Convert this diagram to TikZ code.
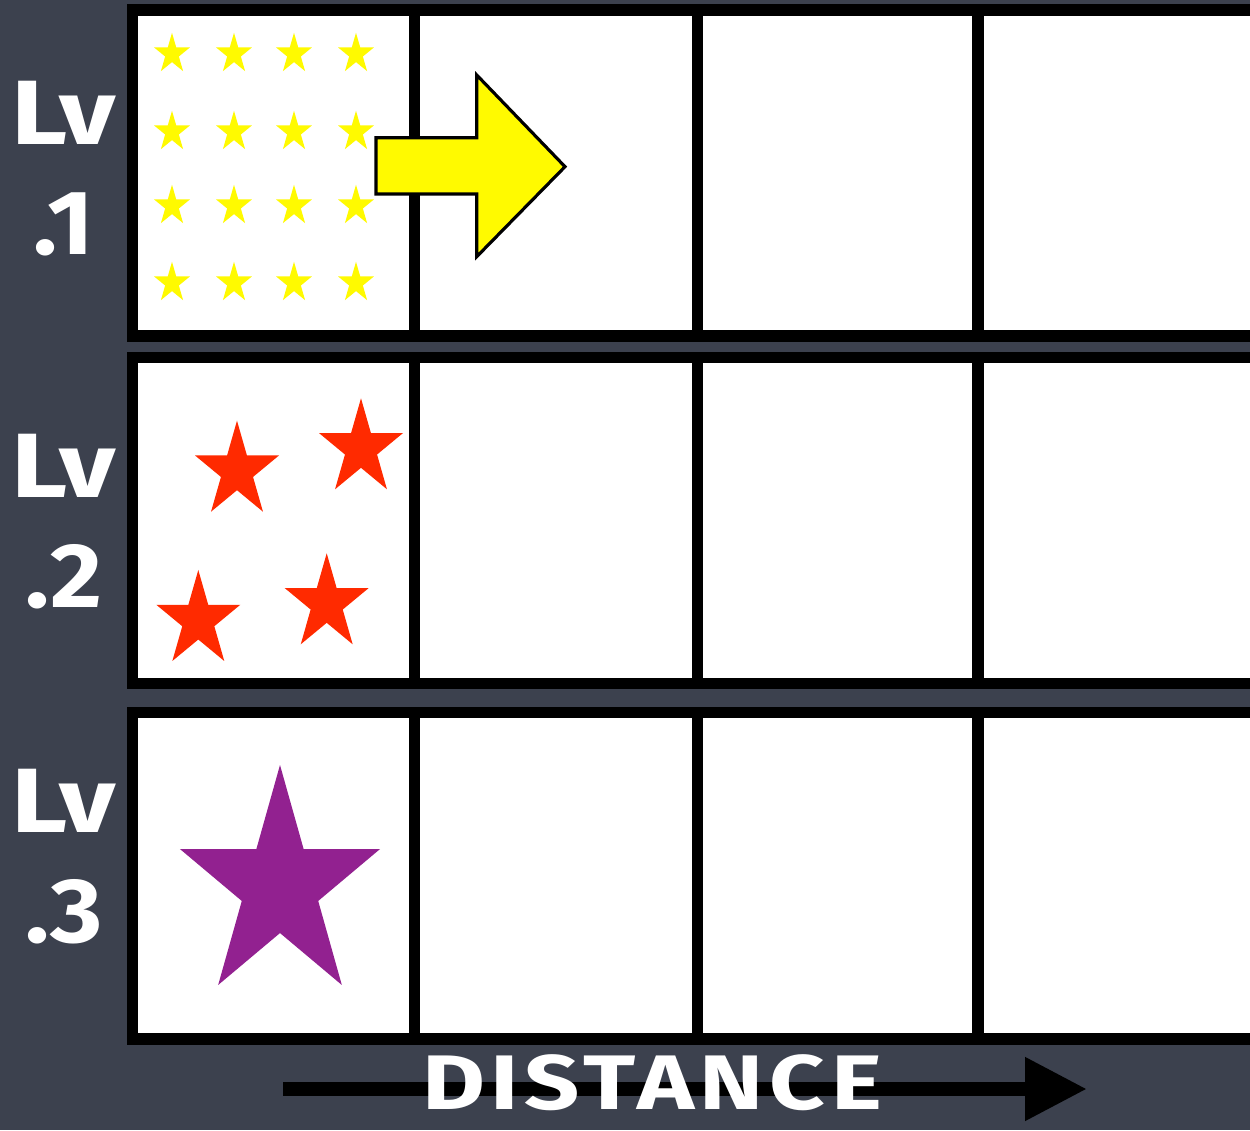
\documentclass[tikz,border=0pt]{standalone}
\usepackage{fontspec}
\setmainfont{Fira Sans}
\usepackage{xcolor}
\usetikzlibrary{arrows.meta,positioning,calc}
\definecolor{board}{RGB}{60,65,78}
\definecolor{starred}{RGB}{255,42,0}
\definecolor{starpurple}{RGB}{146,33,144}
\definecolor{staryellow}{RGB}{255,250,0}
% five-point star: centre x, centre y, radius, colour, x-squeeze
\newcommand{\chalkstar}[5]{%
  \fill[#4, shift={(#1,#2)}, xscale=#5] (90:#3) -- (126:0.382*#3) -- (162:#3) -- (198:0.382*#3)
    -- (234:#3) -- (270:0.382*#3) -- (306:#3) -- (342:0.382*#3) -- (18:#3) -- (54:0.382*#3) -- cycle;}

\begin{document}
\begin{tikzpicture}[x=0.02cm, y=0.02cm,
  gridline/.style={black, line width=0.23cm},
  chalk/.style={white, font=\fontsize{52}{52}\selectfont\bfseries, inner sep=0pt},
  distarrow/.style={black, line width=0.28cm, -{Triangle[length=1.24cm, width=1.2cm]}}]
\useasboundingbox (0,0) rectangle (1250,1130);
\clip (0,0) rectangle (1250,1130);

% Chalkboard
\fill[board] (0,0) rectangle (1250,1130);

% Draw the three level rows (they run off the right edge)
\foreach \top/\bot in {1120/794, 772.5/446.5, 417.5/91} {
    \fill[white] (132.5,\bot) rectangle (1280,\top);
    \foreach \cx in {414.5, 697.5, 978}
        \draw[gridline] (\cx,\bot) -- (\cx,\top);
    \draw[gridline] (132.5,\bot) rectangle (1280,\top);
}

% Level labels
\foreach \n/\yb/\yn in {1/985/875, 2/632/522, 3/298/188} {
    \node[chalk, anchor=base] (lv\n) at (64,\yb) {\scalebox{1.2}[1]{Lv}};
    \node[chalk, anchor=base] (num\n) at (64,\yn) {\scalebox{1.1}[1]{.\n}};
}

% Lv.1: sixteen small yellow stars
\foreach \sx in {172, 234, 294, 356} {
    \foreach \sy in {1076, 998, 924, 847} {
        \chalkstar{\sx}{\sy}{21.2}{staryellow}{0.89}
    }
}

% Yellow arrow into the next cell
\draw[black, line width=1.8pt, fill=staryellow, line join=miter]
    (376,992.3) -- (476.7,992.3) -- (476.7,1055) -- (565,963.3)
    -- (476.7,873.3) -- (476.7,936) -- (376,936) -- cycle;

% Lv.2: four red stars
\foreach \sx/\sy in {237/659, 361/681.4, 198.3/509.7, 326.7/526.4} {
    \chalkstar{\sx}{\sy}{50.3}{starred}{0.878}
}

% Lv.3: one big purple star
\chalkstar{280}{243.4}{121.6}{starpurple}{0.865}

% Distance axis
\coordinate (dstart) at (283,41);
\coordinate (dend) at (1087,41);
\draw[distarrow] (dstart) -- (dend);
\node[chalk, anchor=base, font=\fontsize{44}{44}\selectfont\bfseries\addfontfeature{LetterSpace=6}] (dist) at (652,21) {\scalebox{1.25}[1]{DISTANCE}};

\end{tikzpicture}
\end{document}
